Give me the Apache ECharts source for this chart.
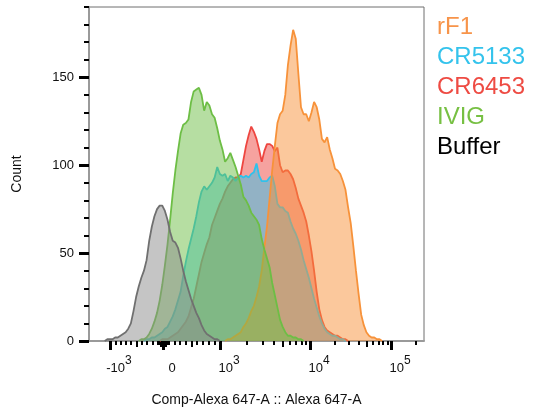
<!DOCTYPE html>
<html>
<head>
<meta charset="utf-8">
<script src="https://cdn.jsdelivr.net/npm/echarts@6/dist/echarts.min.js"></script>
<style>
  html, body { margin: 0; padding: 0; background: #fff; }
  #chart { width: 534px; height: 409px; }
</style>
</head>
<body>
<div id="chart"></div>
<script>
// Overlaid fluorescence histograms, binned on a 1024-channel biexponential display scale.
const binWidth = 8; // display channels per histogram bin

// Counts per bin; each series starts at the given bin index.
const rF1Start = 52;
const rF1Counts = [0, 1, 1, 2, 3, 4, 5, 8, 10, 13, 17, 20, 25, 31, 40, 53, 65, 81, 97, 111,
  124, 129, 131, 140, 157, 168, 177, 172, 152, 133, 129, 129, 125, 130, 136, 133, 126, 115, 113, 116,
  109, 104, 98, 97, 95, 91, 86, 76, 67, 54, 40, 27, 15, 9, 5, 3, 2, 2, 1, 1, 0];

const cr5133Start = 21;
const cr5133Counts = [0, 1, 1, 2, 2, 3, 4, 5, 7, 8, 11, 14, 18, 23, 28, 37, 45, 52, 58, 64,
  71, 79, 85, 88, 86, 88, 90, 93, 99, 95, 94, 95, 91, 94, 93, 91, 93, 94, 93, 94,
  93, 95, 96, 101, 94, 91, 91, 91, 93, 94, 88, 78, 76, 76, 74, 73, 68, 64, 61, 57,
  52, 46, 41, 36, 30, 24, 19, 14, 10, 7, 5, 4, 3, 3, 2, 1, 1, 0];

const cr6453Start = 27;
const cr6453Counts = [0, 1, 1, 1, 2, 3, 4, 5, 7, 9, 11, 14, 19, 24, 31, 38, 45, 50, 55, 59,
  66, 70, 74, 78, 81, 85, 88, 90, 92, 93, 93, 95, 103, 111, 117, 122, 119, 115, 109, 102,
  108, 112, 112, 111, 108, 110, 100, 96, 97, 97, 95, 92, 87, 81, 77, 73, 68, 60, 51, 40,
  28, 18, 12, 8, 6, 5, 4, 3, 3, 2, 1, 1, 0];

const ivigStart = 19;
const ivigCounts = [0, 1, 1, 2, 4, 7, 11, 16, 23, 32, 43, 55, 69, 84, 97, 108, 118, 123, 124, 126,
  136, 142, 143, 144, 140, 131, 136, 134, 129, 127, 121, 114, 109, 102, 104, 107, 103, 99, 94, 89,
  82, 80, 77, 73, 71, 69, 66, 58, 52, 47, 42, 33, 26, 19, 12, 8, 5, 3, 3, 2, 2, 1, 1, 0];

const bufferStart = 6;
const bufferCounts = [0, 1, 1, 1, 2, 2, 3, 4, 5, 7, 10, 17, 25, 31, 36, 40, 46, 57, 65, 71,
  75, 77, 77, 74, 69, 62, 57, 56, 53, 47, 40, 34, 29, 24, 20, 16, 13, 9, 6, 4,
  3, 2, 1, 1, 0];

const legendNames = ['rF1', 'CR5133', 'CR6453', 'IVIG', 'Buffer'];

// Axis ticks
const xTickValues = [-1000, 0, 1000, 10000, 100000];
const xTickLabels = ['-10^3', '0', '10^3', '10^4', '10^5'];
const yTickValues = [0, 50, 100, 150];
const yMax = 190;

// Biexponential display transform: linear through zero, logarithmic beyond 10^3.
const ZERO_CH = 226.2;
const NEG_1E3_CH = 64.2;
const DECADE_CH = [[1e3, 400.4], [1e4, 675.5], [1e5, 923.1]];
const DECADE_WIDTH = 247.6;
const CH_MAX = 1024;
function toChannel(v) {
  if (v >= 0 && v <= 1000) return ZERO_CH + (v / 1000) * (DECADE_CH[0][1] - ZERO_CH);
  if (v < 0) return ZERO_CH + (v / 1000) * (ZERO_CH - NEG_1E3_CH);
  const lg = Math.log10(v);
  for (let i = 0; i < DECADE_CH.length - 1; i++) {
    const a = DECADE_CH[i], b = DECADE_CH[i + 1];
    if (v <= b[0]) return a[1] + (lg - Math.log10(a[0])) * (b[1] - a[1]);
  }
  const last = DECADE_CH[DECADE_CH.length - 1];
  return last[1] + (lg - Math.log10(last[0])) * DECADE_WIDTH;
}

// Minor and half-decade tick values
const mediumTickValues = [];
const minorTickValues = [];
function pushDecade(base, sign) {
  for (let m = 1; m <= 9; m++) {
    if (m === 1 && base >= 1000) continue; // decade ticks are major
    const v = sign * m * base;
    if (m === 5) mediumTickValues.push(v); else minorTickValues.push(v);
  }
}
pushDecade(10, -1); pushDecade(100, -1);
pushDecade(10, 1); pushDecade(100, 1); pushDecade(1000, 1); pushDecade(10000, 1);
minorTickValues.push(200000);
const inRange = v => { const c = toChannel(v); return c >= 0 && c <= CH_MAX; };

function buildData(start, counts) {
  return counts.map((c, i) => [(start + i) * binWidth, c]);
}

const labelByChannel = {};
xTickValues.forEach((v, i) => { labelByChannel[toChannel(v).toFixed(2)] = xTickLabels[i]; });

const font = '"Liberation Sans", Arial, Helvetica, sans-serif';

// z keeps each series' fill and outline together in stacking order
function histSeries(name, start, counts, line, fill, z) {
  return {
    name, type: 'line', data: buildData(start, counts), z,
    symbol: 'none', smooth: false, silent: true,
    lineStyle: { color: line, width: 1.8 },
    itemStyle: { color: line },
    areaStyle: { color: fill, opacity: 1 }
  };
}

const legendColors = {
  rF1: '#F7944A', CR5133: '#34C3EC', CR6453: '#EE4B43', IVIG: '#77C043', Buffer: '#000000'
};

const baseXAxis = {
  type: 'value', min: 0, max: CH_MAX, gridIndex: 0, position: 'bottom',
  splitLine: { show: false }, axisLine: { show: false }, axisLabel: { show: false }
};

const option = {
  animation: false,
  backgroundColor: '#fff',
  grid: { left: 89, right: 110, top: 7, bottom: 68, show: true, borderColor: '#6e6e6e', borderWidth: 1,
    containLabel: false, outerBoundsMode: 'none' },
  legend: {
    orient: 'vertical', left: 432, top: 12, padding: 0, itemGap: 0,
    icon: 'none', itemWidth: 0, itemHeight: 14, selectedMode: false,
    textStyle: { fontFamily: font, fontSize: 24, lineHeight: 30 },
    data: legendNames.map(n => ({ name: n, textStyle: { color: legendColors[n] } }))
  },
  xAxis: [
    Object.assign({}, baseXAxis, {
      axisLine: { show: true, lineStyle: { color: '#9a9a9a', width: 2 } },
      axisTick: { show: true, length: 9, lineStyle: { color: '#000', width: 3 },
        customValues: xTickValues.map(toChannel) },
      axisLabel: {
        show: true, margin: 14, padding: [0, 0, 0, 18],
        customValues: xTickValues.map(toChannel),
        formatter: (val) => {
          const s = labelByChannel[val.toFixed(2)] || '';
          const p = s.split('^');
          return p.length === 2 ? '{b|' + p[0] + '}{s|' + p[1] + '}' : '{b|' + s + '}';
        },
        rich: {
          b: { fontFamily: font, fontSize: 13, lineHeight: 26, color: '#111' },
          s: { fontFamily: font, fontSize: 12, lineHeight: 10, verticalAlign: 'top', color: '#111' }
        }
      },
      name: 'Comp-Alexa 647-A :: Alexa 647-A', nameLocation: 'middle', nameGap: 52,
      nameTextStyle: { fontFamily: font, fontSize: 14, color: '#111' }
    }),
    Object.assign({}, baseXAxis, {
      axisTick: { show: true, length: 6, lineStyle: { color: '#000', width: 2 },
        customValues: mediumTickValues.filter(inRange).map(toChannel) }
    }),
    Object.assign({}, baseXAxis, {
      axisTick: { show: true, length: 4, lineStyle: { color: '#000', width: 2 },
        customValues: minorTickValues.filter(inRange).map(toChannel) }
    })
  ],
  yAxis: [
    {
      type: 'value', min: 0, max: yMax, position: 'left',
      splitLine: { show: false },
      axisLine: { show: true, lineStyle: { color: '#9a9a9a', width: 2 } },
      axisTick: { show: true, length: 10, lineStyle: { color: '#000', width: 3 }, customValues: yTickValues },
      axisLabel: { show: true, margin: 15, customValues: yTickValues,
        fontFamily: font, fontSize: 13, color: '#111' },
      name: 'Count', nameLocation: 'middle', nameGap: 65,
      nameTextStyle: { fontFamily: font, fontSize: 14, color: '#111' }
    },
    {
      type: 'value', min: 0, max: yMax, position: 'left', offset: 0,
      splitLine: { show: false }, axisLine: { show: false }, axisLabel: { show: false },
      axisTick: { show: true, length: 5, lineStyle: { color: '#000', width: 2 },
        customValues: Array.from({ length: yMax / 10 }, (_, i) => (i + 1) * 10).filter(v => v % 50 !== 0) }
    }
  ],
  series: [
    histSeries('CR6453', cr6453Start, cr6453Counts, '#EE4640', 'rgba(238,70,64,0.5)', 2),
    histSeries('CR5133', cr5133Start, cr5133Counts, '#2EC2EC', 'rgba(46,194,236,0.5)', 3),
    histSeries('rF1', rF1Start, rF1Counts, '#F7923A', 'rgba(247,146,58,0.5)', 4),
    histSeries('IVIG', ivigStart, ivigCounts, '#6DBE45', 'rgba(109,190,69,0.5)', 5),
    histSeries('Buffer', bufferStart, bufferCounts, '#707070', 'rgba(140,140,140,0.5)', 6)
  ]
};

const chart = echarts.init(document.getElementById('chart'), null, { renderer: 'canvas' });
chart.setOption(option);
</script>
</body>
</html>
